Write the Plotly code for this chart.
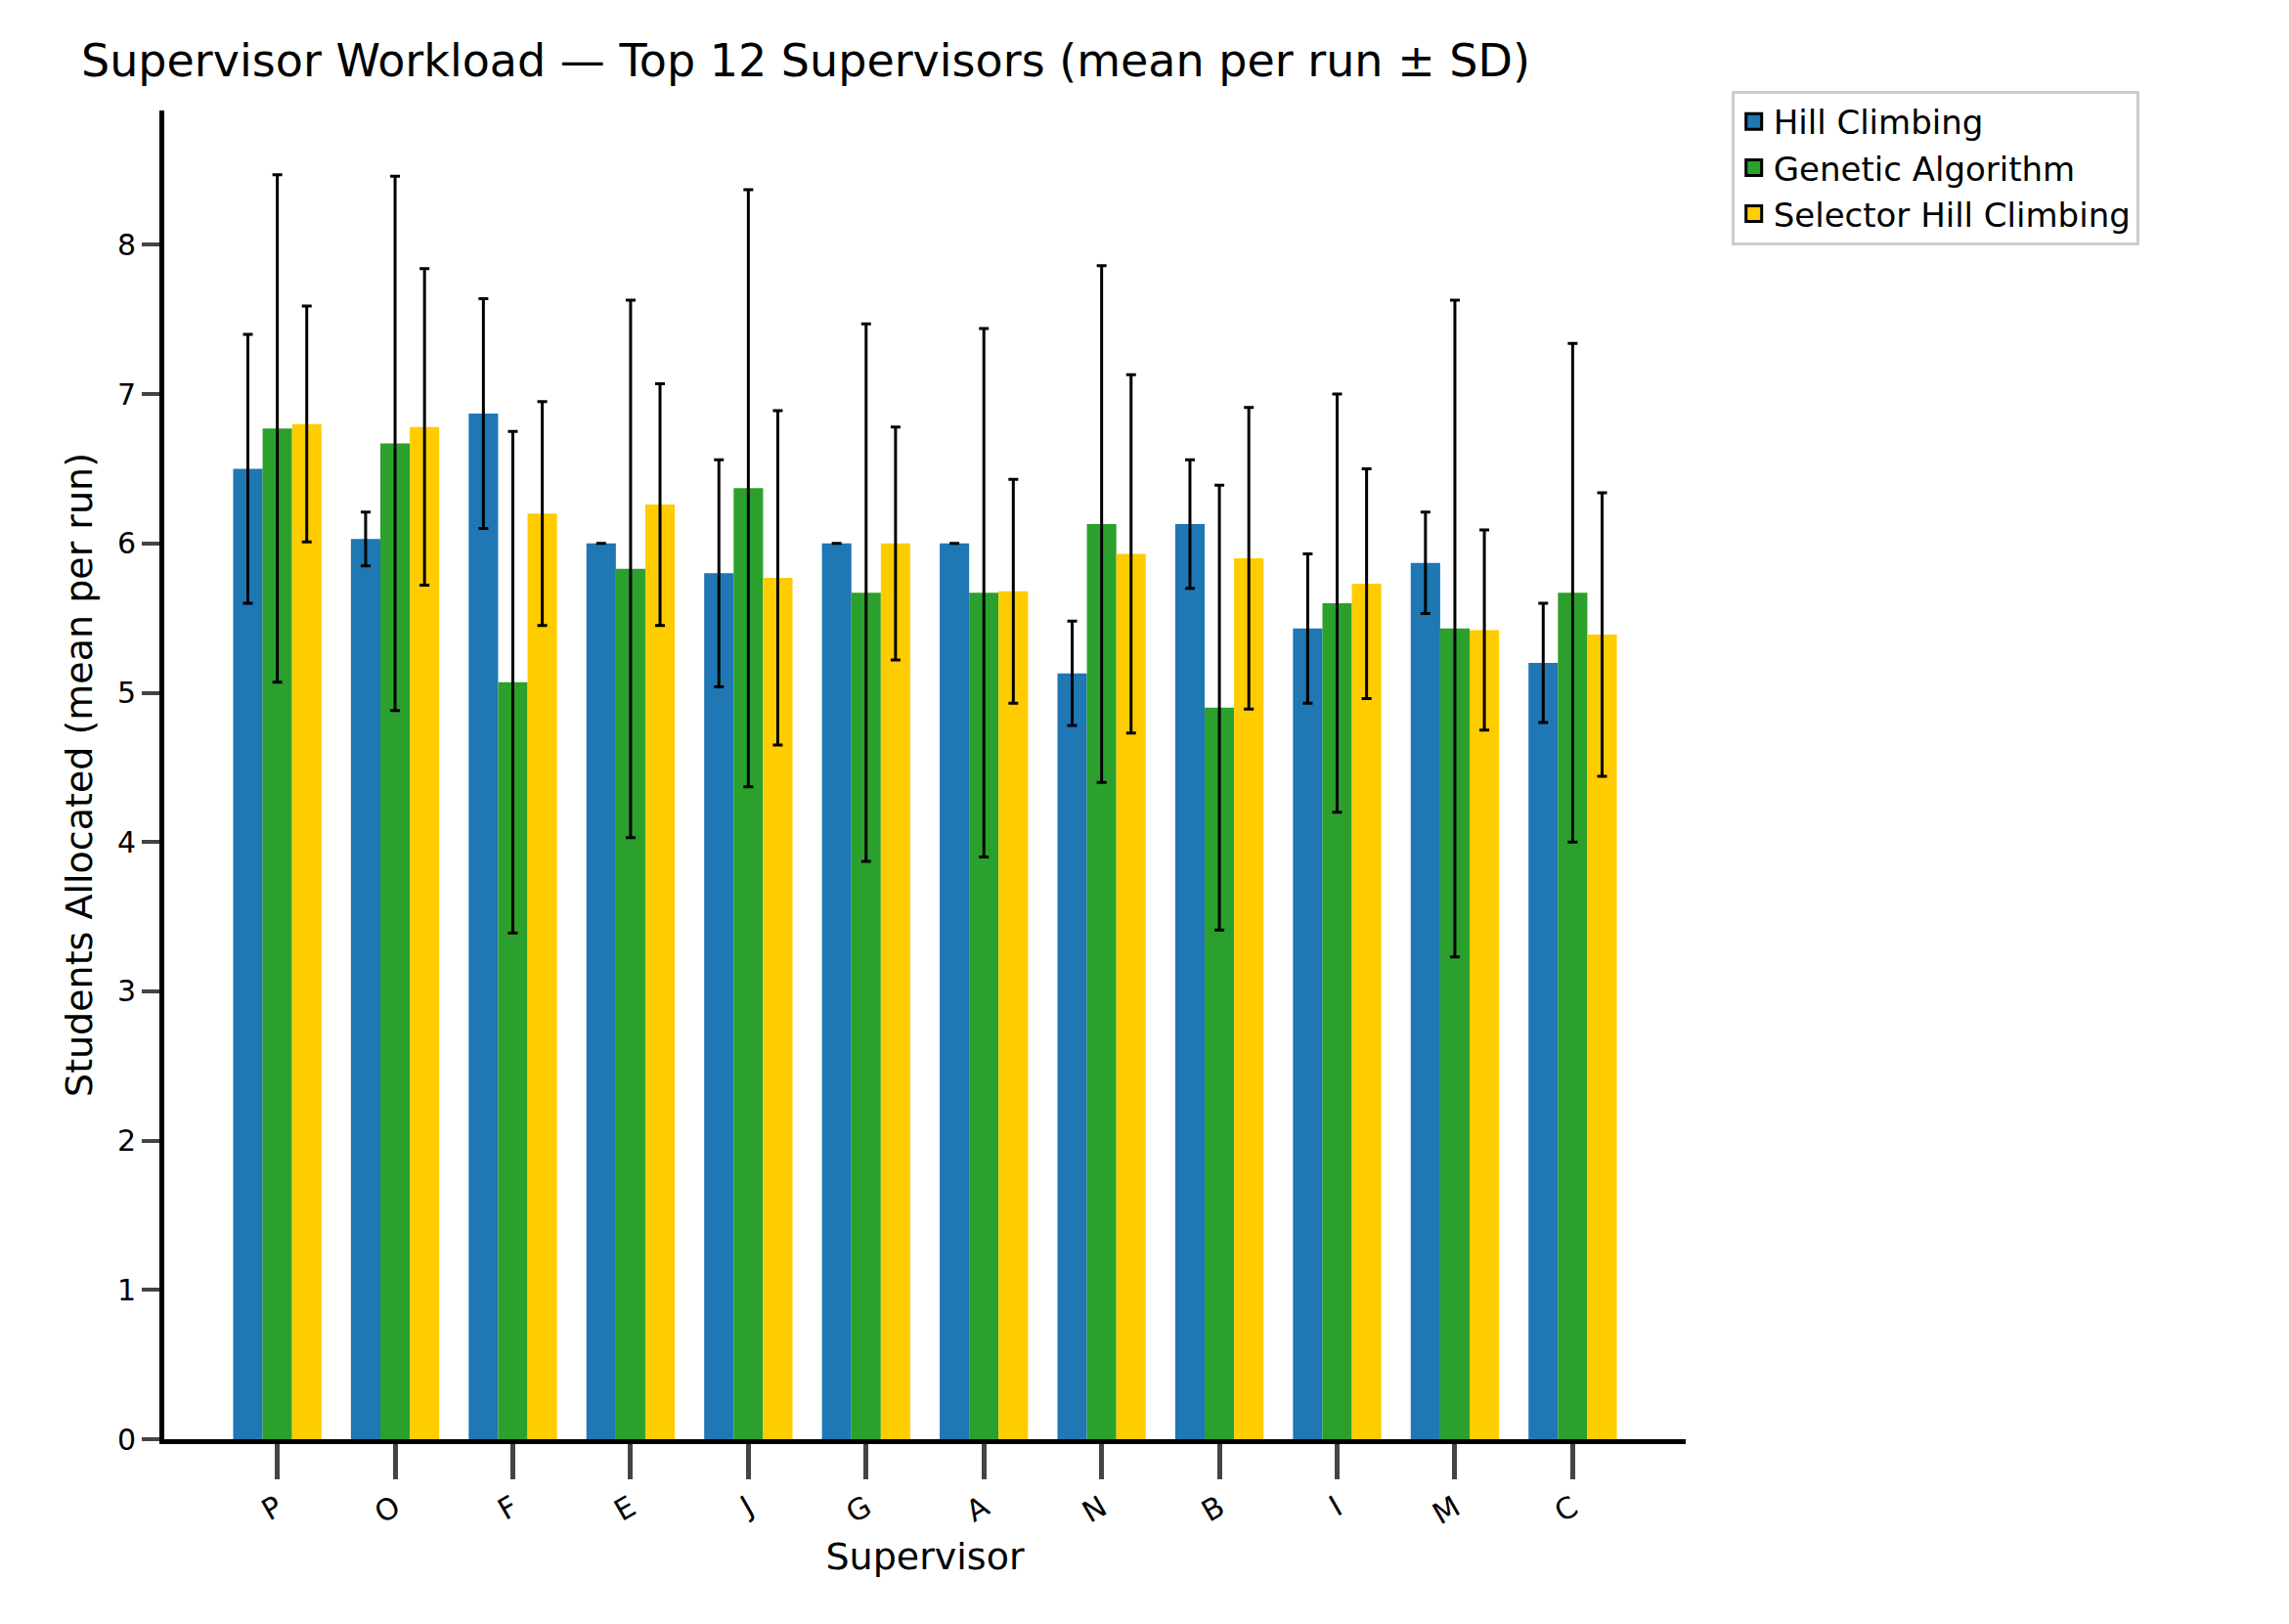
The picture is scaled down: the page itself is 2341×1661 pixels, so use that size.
import plotly.graph_objects as go

supervisors = ["P","O","F","E","J","G","A","N","B","I","M","C"]
hc_mean = [6.5,6.03,6.87,6.0,5.8,6.0,6.0,5.13,6.13,5.43,5.87,5.2]
hc_sd = [0.9,0.18,0.77,0.0,0.76,0.0,0.0,0.35,0.43,0.5,0.34,0.4]
ga_mean = [6.77,6.67,5.07,5.83,6.37,5.67,5.67,6.13,4.9,5.6,5.43,5.67]
ga_sd = [1.7,1.79,1.68,1.8,2.0,1.8,1.77,1.73,1.49,1.4,2.2,1.67]
shc_mean = [6.8,6.78,6.2,6.26,5.77,6.0,5.68,5.93,5.9,5.73,5.42,5.39]
shc_sd = [0.79,1.06,0.75,0.81,1.12,0.78,0.75,1.2,1.01,0.77,0.67,0.95]

series = [("Hill Climbing", hc_mean, hc_sd, "#1f77b4"),
          ("Genetic Algorithm", ga_mean, ga_sd, "#2ca02c"),
          ("Selector Hill Climbing", shc_mean, shc_sd, "#ffcc00")]

fig = go.Figure()
for i, (name, m, s, c) in enumerate(series):
    fig.add_trace(go.Bar(
        x=list(range(len(supervisors))), y=m, name=name, width=0.25,
        offset=-0.375 + 0.25 * i, marker=dict(color=c, line=dict(width=0)),
        error_y=dict(type="data", array=s, visible=True, color="black", thickness=3, width=5),
    ))
    # legend proxy with black border
    fig.add_trace(go.Scatter(x=[None], y=[None], mode="markers", name=name,
                             marker=dict(symbol="square", size=30, color=c,
                                         line=dict(color="black", width=3))))
for t in fig.data:
    if isinstance(t, go.Bar):
        t.showlegend = False

fig.update_layout(
    width=2341, height=1661, barmode="group",
    paper_bgcolor="white", plot_bgcolor="white",
    font=dict(family="DejaVu Sans", color="black", size=30),
    margin=dict(l=160, r=625, t=105, b=197),
    title=dict(text="Supervisor Workload — Top 12 Supervisors (mean per run ± SD)",
               x=75/2341, xanchor="left", y=1-54/1661, yanchor="middle", font=dict(size=46)),
    legend=dict(x=1.03, y=1.015, xanchor="left", yanchor="top",
                bordercolor="#cccccc", borderwidth=3, font=dict(size=34)),
)
fig.update_xaxes(tickmode="array", tickvals=list(range(12)), ticktext=supervisors,
                 range=[-0.96, 11.96], showline=True, linecolor="black", linewidth=5,
                 ticks="outside", ticklen=36, tickwidth=5, tickangle=-30, showgrid=False,
                 title=dict(text="Supervisor", font=dict(size=38)), tickfont=dict(size=30))
fig.update_yaxes(range=[0, 8.9], dtick=1, showline=True, linecolor="black", linewidth=5,
                 ticks="outside", ticklen=18, tickwidth=4, showgrid=False, zeroline=False,
                 title=dict(text="Students Allocated (mean per run)", font=dict(size=38)),
                 tickfont=dict(size=30))
fig.write_html("out.html")
